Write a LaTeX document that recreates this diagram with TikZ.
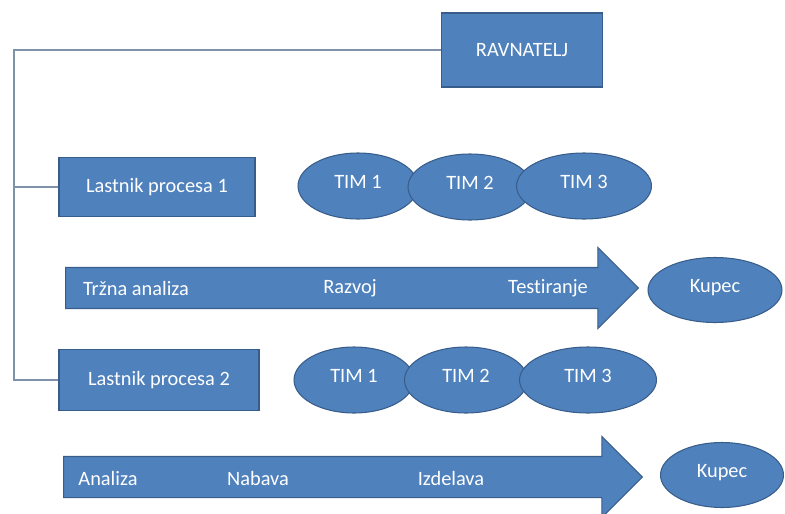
\documentclass[tikz,border=0pt]{standalone}
\usepackage{fontspec}
\setmainfont{Carlito}[Ligatures=CommonOff]
\usetikzlibrary{shapes.geometric, shapes.arrows, positioning}
\definecolor{ofblue}{HTML}{4F81BD}
\definecolor{ofedge}{HTML}{385D8A}
\definecolor{ofline}{HTML}{7F92AA}

\begin{document}
\begin{tikzpicture}[x=0.02cm, y=-0.02cm,
    box/.style={rectangle, fill=ofblue, draw=ofedge, line width=0.6pt, text=white, font=\fontsize{11.6}{13}\selectfont},
    tim/.style={ellipse, fill=ofblue, draw=ofedge, line width=0.6pt, text=white, inner sep=0pt, text depth=0.18cm, minimum width=2.4cm, minimum height=1.32cm, font=\fontsize{11.6}{13}\selectfont},
    flow/.style={single arrow, fill=ofblue, draw=ofedge, line width=0.6pt, inner xsep=0pt, inner ysep=0.4cm, single arrow head extend=0.4cm, single arrow tip angle=90, anchor=west},
    lbl/.style={text=white, inner sep=0pt, font=\fontsize{11.6}{13}\selectfont},
    orgline/.style={draw=ofline, line width=0.6pt}]
    \useasboundingbox (0,0) rectangle (785,514);

    % organisation
    \node[box, minimum width=3.22cm, minimum height=1.48cm] (ravnatelj) at (522,50) {RAVNATELJ};
    \node[box, minimum width=3.92cm, minimum height=1.18cm] (lastnik1) at (157,187) {Lastnik procesa 1};
    \node[box, minimum width=4.0cm, minimum height=1.22cm] (lastnik2) at (159,380) {Lastnik procesa 2};

    \coordinate (top) at (14,50);
    \draw[orgline] (ravnatelj.west) -- (top) -- (top |- lastnik2.west) -- (lastnik2.west);
    \draw[orgline] (top |- lastnik1.west) -- (lastnik1.west);

    % teams
    \node[tim] (timA1) at (358,186) {TIM 1};
    \node[tim, minimum width=2.48cm] (timA2) at (470,187) {TIM 2};
    \node[tim, minimum width=2.7cm] (timA3) at (584,186) {TIM 3};

    \node[tim] (timB1) at (354,380) {TIM 1};
    \node[tim, minimum width=2.46cm] (timB2) at (466,380) {TIM 2};
    \node[tim, minimum width=2.74cm] (timB3) at (588,380) {TIM 3};

    % process flows
    \node[flow, minimum height=11.46cm] (flowA) at (65,288) {};
    \node[lbl] (trzna) at (136,288) {Tržna analiza};
    \node[lbl] (razvoj) at (350,288) {Razvoj};
    \node[lbl] (test) at (548,288) {Testiranje};
    \node[tim, minimum width=2.68cm, minimum height=1.3cm] (kupecA) at (715,290) {Kupec};

    \node[flow, minimum height=11.58cm] (flowB) at (63,477) {};
    \node[lbl] (analiza) at (108,478) {Analiza};
    \node[lbl] (nabava) at (258,478) {Nabava};
    \node[lbl] (izdelava) at (451,478) {Izdelava};
    \node[tim, minimum width=2.46cm, minimum height=1.3cm] (kupecB) at (722,475) {Kupec};
\end{tikzpicture}
\end{document}
